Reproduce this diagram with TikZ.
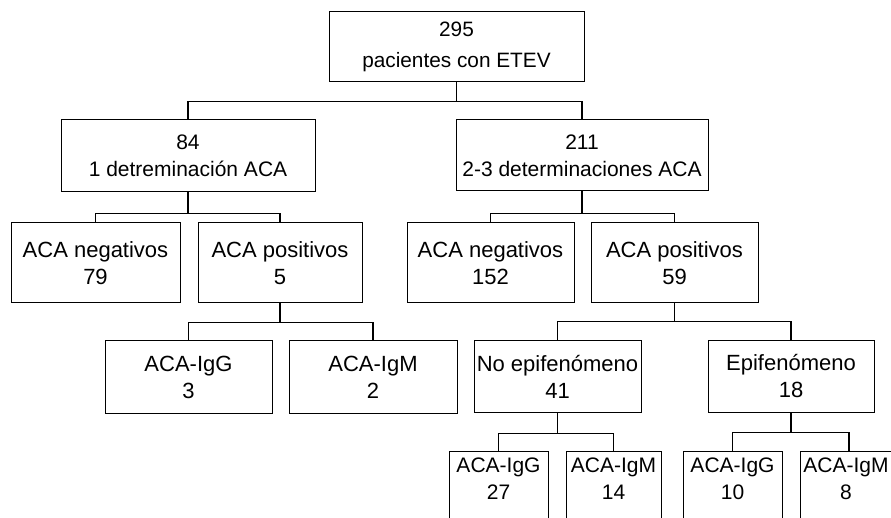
\documentclass[tikz,border=0pt]{standalone}
\usepackage{fontspec}
\setmainfont{Liberation Sans}
\newcommand\dfont{\fontsize{22}{27}\selectfont}
\newcommand\dfontmid{\fontsize{21}{27}\selectfont}
\newcommand\dfonttop{\fontsize{20.8}{31}\selectfont}
\begin{document}
\begin{tikzpicture}[x=1pt,y=-1pt,
  box/.style={draw=black, line width=1pt, inner sep=0pt, align=center, font=\dfont},
  cutbox/.style={draw=black, line width=1pt, inner sep=0pt, anchor=north, minimum height=90pt},
  lbl/.style={inner sep=0pt, align=center, font=\dfontmid, anchor=north},
  conn/.style={line width=1.6pt, line cap=rect}]
\useasboundingbox (0,0) rectangle (891,518);
\clip (0,0) rectangle (891,518);
\fill[white] (0,0) rectangle (891,518);

% level 0
\node[box, font=\dfonttop, minimum width=255pt, minimum height=70pt] (top) at (456.5,47) {295\\pacientes con ETEV};
% level 1
\node[box, font=\dfontmid, minimum width=254pt, minimum height=72pt] (b84) at (188,156) {84\\1 detreminación ACA};
\node[box, font=\dfontmid, minimum width=252pt, minimum height=71pt] (b211) at (582,155.5) {211\\2-3 determinaciones ACA};
% level 2
\node[box, minimum width=169pt, minimum height=80pt] (neg79) at (95.5,263) {ACA negativos\\79};
\node[box, minimum width=164pt, minimum height=80pt] (pos5) at (280,263) {ACA positivos\\5};
\node[box, minimum width=167pt, minimum height=80pt] (neg152) at (490.5,263) {ACA negativos\\152};
\node[box, minimum width=167pt, minimum height=80pt] (pos59) at (674.5,263) {ACA positivos\\59};
% level 3
\node[box, minimum width=167pt, minimum height=72pt] (igg3) at (188.5,377) {ACA-IgG\\3};
\node[box, minimum width=168pt, minimum height=72pt] (igm2) at (373,377) {ACA-IgM\\2};
\node[box, minimum width=167pt, minimum height=71pt] (noepi) at (557.5,376.5) {No epifenómeno\\41};
\node[box, minimum width=166pt, minimum height=71pt] (epi) at (791,376.5) {Epifenómeno\\18};
% level 4 (cut by the lower edge)
\node[cutbox, minimum width=99pt] (igg27) at (498.5,451) {};
\node[cutbox, minimum width=95pt] (igm14) at (613.5,451) {};
\node[cutbox, minimum width=99pt] (igg10) at (732.5,451) {};
\node[cutbox, minimum width=98pt] (igm8) at (849,451) {};
\node[lbl] (igg27t) at ([yshift=-7pt]igg27.north) {ACA-IgG\\27};
\node[lbl] (igm14t) at ([yshift=-7pt]igm14.north) {ACA-IgM\\14};
\node[lbl] (igg10t) at ([yshift=-7pt]igg10.north) {ACA-IgG\\10};
\node[lbl] (igm8t) at ([xshift=-3pt,yshift=-7pt]igm8.north) {ACA-IgM\\8};

% connectors
\draw[conn] (top.south) -- ++(0,19) -| (b84.north);
\draw[conn] (top.south) -- ++(0,19) -| (b211.north);
\draw[conn] (b84.south) -- ++(0,21) -| (neg79.north);
\draw[conn] (b84.south) -- ++(0,21) -| (pos5.north);
\draw[conn] (b211.south) -- ++(0,22) -| (neg152.north);
\draw[conn] (b211.south) -- ++(0,22) -| (pos59.north);
\draw[conn] (pos5.south) -- ++(0,19) -| (igg3.north);
\draw[conn] (pos5.south) -- ++(0,19) -| (igm2.north);
\draw[conn] (pos59.south) -- ++(0,18) -| (noepi.north);
\draw[conn] (pos59.south) -- ++(0,18) -| (epi.north);
\draw[conn] (noepi.south) -- ++(0,21) -| (igg27.north);
\draw[conn] (noepi.south) -- ++(0,21) -| (igm14.north);
\draw[conn] (epi.south) -- ++(0,20) -| (igg10.north);
\draw[conn] (epi.south) -- ++(0,20) -| (igm8.north);
\end{tikzpicture}
\end{document}
